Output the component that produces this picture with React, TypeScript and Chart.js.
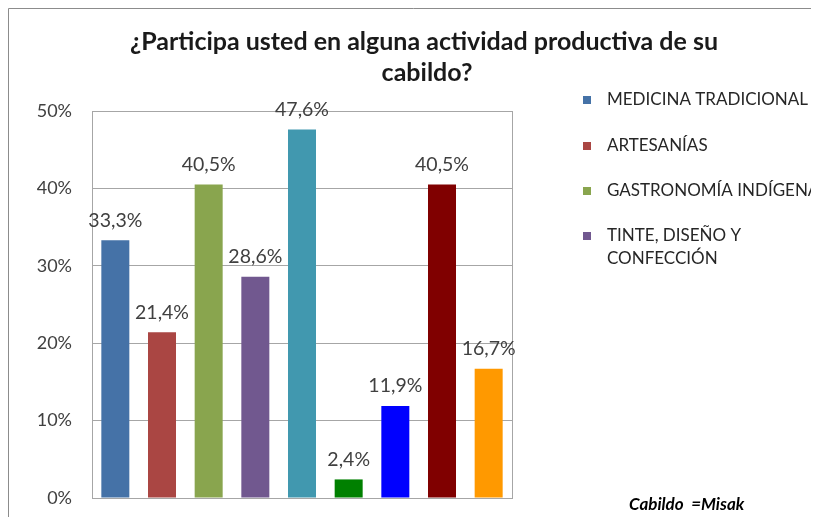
import React, { useEffect, useRef } from "react";
import { Chart, registerables } from "chart.js";

Chart.register(...registerables);

const titleLines = ["¿Participa usted en alguna actividad productiva de su", "cabildo?"];
const categories = [
  "MEDICINA TRADICIONAL",
  "ARTESANÍAS",
  "GASTRONOMÍA INDÍGENA",
  "TINTE, DISEÑO Y CONFECCIÓN",
  "",
  "",
  "",
  "",
  "",
];
const legendLines = [["MEDICINA TRADICIONAL"], ["ARTESANÍAS"], ["GASTRONOMÍA INDÍGENA"], ["TINTE, DISEÑO Y", "CONFECCIÓN"]];
const values = [33.3, 21.4, 40.5, 28.6, 47.6, 2.4, 11.9, 40.5, 16.7];
const colors = ["#4572A7", "#AA4643", "#89A54E", "#71588F", "#4198AF", "#008000", "#0000FF", "#800000", "#FF9900"];
const noteText = "Cabildo  =Misak";

const FONT = "Lato, 'Open Sans', sans-serif";

const decor = {
  id: "decor",
  beforeDatasetsDraw(chart: any) {
    const { ctx, chartArea } = chart;
    ctx.save();
    ctx.strokeStyle = "#a6a6a6";
    ctx.lineWidth = 1;
    ctx.strokeRect(
      Math.round(chartArea.left) + 0.5,
      Math.round(chartArea.top) + 0.5,
      Math.round(chartArea.right - chartArea.left),
      Math.round(chartArea.bottom - chartArea.top)
    );
    ctx.restore();
  },
  afterDatasetsDraw(chart: any) {
    const { ctx } = chart;
    const meta = chart.getDatasetMeta(0);
    ctx.save();
    ctx.fillStyle = "#404040";
    ctx.font = `19.5px ${FONT}`;
    ctx.textAlign = "center";
    ctx.textBaseline = "middle";
    meta.data.forEach((bar: any, i: number) => {
      const txt = values[i].toFixed(1).replace(".", ",") + "%";
      ctx.fillText(txt, bar.x, bar.y - 20);
    });
    ctx.restore();
  },
  afterDraw(chart: any) {
    const { ctx, width, height } = chart;
    ctx.save();
    ctx.strokeStyle = "#8c8c8c";
    ctx.lineWidth = 1;
    ctx.beginPath();
    ctx.moveTo(0.5, height);
    ctx.lineTo(0.5, 0.5);
    ctx.lineTo(width, 0.5);
    ctx.stroke();
    ctx.fillStyle = "#1a1a1a";
    ctx.font = `bold 25px ${FONT}`;
    ctx.textAlign = "center";
    ctx.textBaseline = "middle";
    ctx.fillText(titleLines[0], 416, 34);
    ctx.fillText(titleLines[1], 419, 65);
    ctx.textAlign = "left";
    ctx.font = `17px ${FONT}`;
    const ys = [92, 138, 183, 228];
    legendLines.forEach((lines, i) => {
      ctx.fillStyle = colors[i];
      ctx.fillRect(575, ys[i] - 4, 8, 8);
      ctx.fillStyle = "#262626";
      lines.forEach((ln, j) => {
        ctx.fillText(ln, 599, ys[i] + j * 23);
      });
    });
    ctx.font = `italic bold 17px ${FONT}`;
    ctx.fillStyle = "#000000";
    ctx.fillText(noteText, 621, 497);
    ctx.restore();
  },
};

export default function App() {
  const ref = useRef<HTMLCanvasElement | null>(null);
  useEffect(() => {
    document.documentElement.style.overflow = "hidden";
    document.body.style.overflow = "hidden";
    const chart = new Chart(ref.current!, {
      type: "bar",
      data: {
        labels: categories,
        datasets: [
          {
            label: "Participación",
            data: values,
            backgroundColor: colors,
            barPercentage: 0.6,
            categoryPercentage: 1,
          },
        ],
      },
      options: {
        animation: false,
        responsive: false,
        layout: { padding: { top: 103, bottom: 19, left: 0, right: 307 } },
        plugins: { legend: { display: false }, tooltip: { enabled: false }, title: { display: false } },
        scales: {
          x: { display: false },
          y: {
            min: 0,
            max: 50,
            afterFit: (axis: any) => {
              axis.width = 84;
            },
            border: { display: false },
            grid: { color: "#a6a6a6", drawTicks: true, tickLength: 20, tickColor: "rgba(0,0,0,0)" },
            ticks: {
              stepSize: 10,
              padding: 0,
              color: "#404040",
              font: { family: FONT, size: 18 },
              callback: (v: any) => `${v}%`,
            },
          },
        },
      },
      plugins: [decor],
    });
    return () => chart.destroy();
  }, []);
  return (
    <div style={{ width: 811, height: 509 }}>
      <canvas ref={ref} width={811} height={509} style={{ display: "block" }} />
    </div>
  );
}
